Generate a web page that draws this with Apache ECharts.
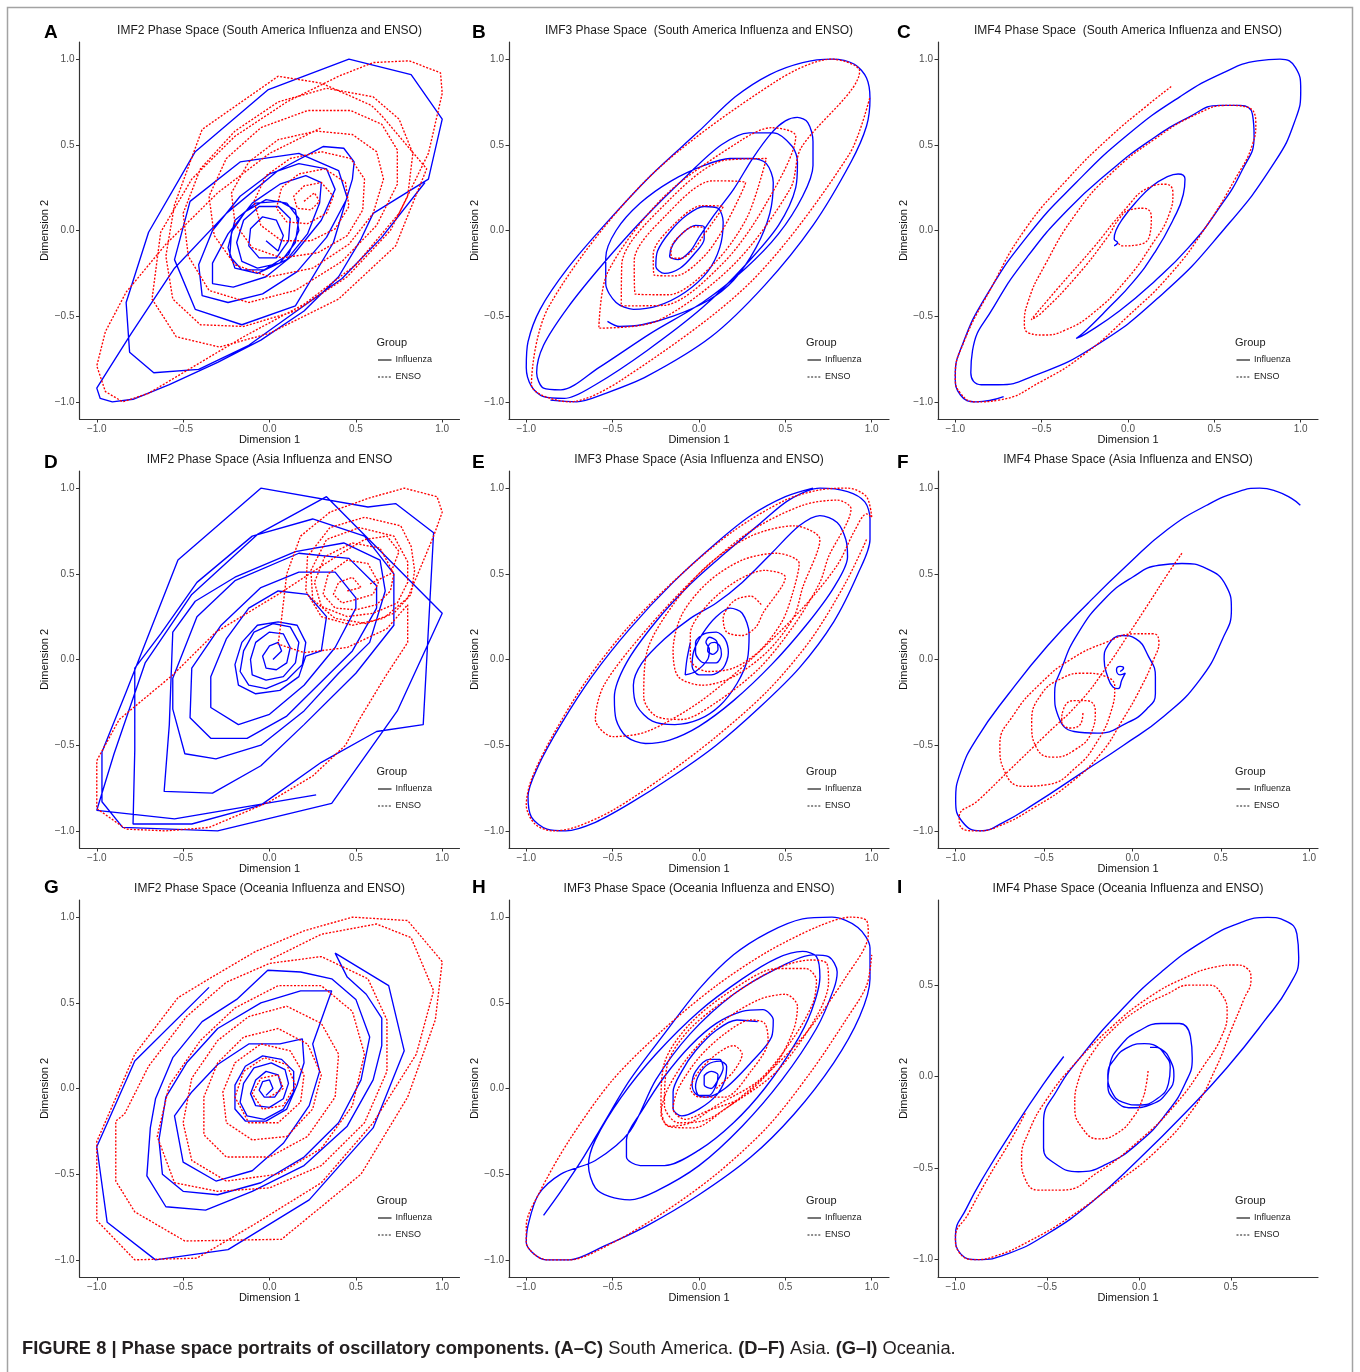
<!DOCTYPE html>
<html>
<head>
<meta charset="utf-8">
<script src="https://cdn.jsdelivr.net/npm/echarts/dist/echarts.min.js"></script>
<style>
  html, body { margin: 0; padding: 0; background: #fff; }
  #chart { width: 1360px; height: 1372px; }
</style>
</head>
<body>
<div id="chart"></div>
<script>
// ---- tick labels, titles, group names ----
const fullTicks = [-1, -0.5, 0, 0.5, 1];
const shortTicks = [-1, -0.5, 0, 0.5];
const panelLetters = ['A', 'B', 'C', 'D', 'E', 'F', 'G', 'H', 'I'];
const panelTitles = [
  'IMF2 Phase Space (South America Influenza and ENSO)',
  'IMF3 Phase Space  (South America Influenza and ENSO)',
  'IMF4 Phase Space  (South America Influenza and ENSO)',
  'IMF2 Phase Space (Asia Influenza and ENSO',
  'IMF3 Phase Space (Asia Influenza and ENSO)',
  'IMF4 Phase Space (Asia Influenza and ENSO)',
  'IMF2 Phase Space (Oceania Influenza and ENSO)',
  'IMF3 Phase Space (Oceania Influenza and ENSO)',
  'IMF4 Phase Space (Oceania Influenza and ENSO)'
];
const groupNames = ['Influenza', 'ENSO'];
const xAxisName = 'Dimension 1';
const yAxisName = 'Dimension 2';

// ---- South America ----
const saFlu2 = [
[-0.02,-0.06],[0.05,-0.12],[0.08,-0.03],[0.04,0.06],[-0.04,0.08],[-0.11,0.01],[-0.12,-0.09],[-0.06,-0.16],
[0.04,-0.16],[0.11,-0.06],[0.12,0.07],[0.05,0.14],[-0.06,0.14],[-0.15,0.06],[-0.19,-0.07],[-0.16,-0.18],[-0.07,-0.22],
[0.06,-0.19],[0.15,-0.07],[0.17,0.07],[0.1,0.16],[-0.02,0.18],[-0.14,0.11],[-0.22,-0.01],[-0.23,-0.15],[-0.16,-0.23],
[-0.03,-0.23],[0.11,-0.14],[0.17,0.0],[0.15,0.12],[0.06,0.17],[-0.08,0.16],[-0.2,0.06],[-0.24,-0.1],[-0.2,-0.22],
[-0.07,-0.25],[0.1,-0.17],[0.22,-0.02],[0.29,0.16],[0.3,0.28],[0.21,0.32],[0.06,0.27],[-0.1,0.16],[-0.24,-0.02],[-0.33,-0.19],[-0.33,-0.31],[-0.21,-0.33],[-0.02,-0.27],[0.14,-0.14],
[0.3,0.06],[0.38,0.24],[0.33,0.36],[0.17,0.39],[0.0,0.33],[-0.17,0.2],[-0.33,0.0],[-0.41,-0.2],[-0.39,-0.38],[-0.24,-0.42],[-0.04,-0.37],[0.16,-0.24],[0.33,-0.04],
[0.45,0.19],[0.4,0.35],[0.17,0.45],[-0.17,0.4],[-0.46,0.17],[-0.55,-0.17],[-0.43,-0.46],[-0.16,-0.55],[0.15,-0.44],[0.37,-0.07],[0.48,0.3],[0.49,0.4],[0.43,0.48],[0.31,0.49],
[0.05,0.35],[-0.25,0.1],[-0.55,-0.22],[-0.8,-0.6],[-0.95,-0.84],[-1.0,-0.92],[-0.98,-0.98],[-0.91,-1.0],[-0.79,-0.985],[-0.58,-0.9],[-0.3,-0.77],[-0.05,-0.64],[0.2,-0.47],[0.4,-0.27],[0.53,-0.05],[0.6,0.1],
[0.92,0.3],[1.0,0.65],[0.82,0.91],[0.46,1.0],[-0.01,0.82],[-0.43,0.46],[-0.7,-0.01],[-0.83,-0.42],[-0.81,-0.71],[-0.67,-0.83],[-0.41,-0.81],[-0.12,-0.67],[0.42,-0.28],[0.65,-0.04],[0.9,0.28]
];
const saEnso2 = [
[0.2,0.17],[0.26,0.22],[0.29,0.17],[0.24,0.12],[0.16,0.13],[0.14,0.2],[0.2,0.26],[0.3,0.28],[0.37,0.2],[0.33,0.1],[0.22,0.04],[0.1,0.05],[0.04,0.13],[0.07,0.25],[0.17,0.33],[0.32,0.36],
[0.44,0.28],[0.46,0.14],[0.38,0.01],[0.24,-0.06],[0.07,-0.06],[-0.05,0.03],[-0.09,0.17],[-0.02,0.32],[0.12,0.42],[0.3,0.46],[0.47,0.42],[0.55,0.3],[0.54,0.12],[0.45,-0.03],[0.28,-0.13],[0.07,-0.16],[-0.1,-0.1],[-0.2,0.04],[-0.22,0.22],[-0.12,0.4],[0.05,0.53],[0.27,0.58],[0.48,0.56],[0.62,0.46],[0.66,0.3],[0.6,0.1],[0.46,-0.08],[0.25,-0.22],[0.0,-0.27],[-0.2,-0.2],[-0.32,-0.03],[-0.35,0.2],[-0.25,0.42],[-0.05,0.6],[0.22,0.7],[0.47,0.7],[0.65,0.62],[0.74,0.47],[0.74,0.27],[0.62,0.03],[0.42,-0.18],[0.15,-0.35],[-0.12,-0.42],[-0.35,-0.35],[-0.47,-0.15],[-0.5,0.1],[-0.4,0.36],[-0.2,0.58],[0.05,0.75],[0.33,0.83],[0.6,0.78],[0.75,0.65],[0.83,0.45],[0.8,0.2],[0.7,0.0],[0.45,-0.27],[0.15,-0.47],[-0.15,-0.56],[-0.4,-0.55],[-0.56,-0.4],[-0.6,-0.15],[-0.55,0.15],[-0.39,0.59],[0.05,0.9],[0.3,0.86],[0.59,0.73],[0.65,0.67],[0.91,0.36],[0.73,-0.09],[0.4,-0.4],[0.0,-0.6],[-0.29,-0.68],[-0.54,-0.62],[-0.68,-0.4],[-0.63,-0.01],[-0.45,0.3],[-0.2,0.55],[0.1,0.75],[0.4,0.9],[0.6,0.98],[0.81,0.99],[0.99,0.92],[1.0,0.8],[0.92,0.45],[0.75,0.1],[0.5,-0.2],[0.2,-0.43],[-0.15,-0.62],[-0.45,-0.8],[-0.7,-0.95],[-0.85,-1.0],[-0.95,-0.94],[-1.0,-0.79],[-0.95,-0.59],[-0.83,-0.36],[-0.6,-0.08],[-0.3,0.22],[0.0,0.45],[0.3,0.6]
];
const saFlu3 = [
[-0.53,-0.53],[-0.46,-0.56],[-0.33,-0.55],[-0.15,-0.5],[0.05,-0.41],[0.2,-0.29],[0.33,-0.1],[0.41,0.1],[0.43,0.28],[0.39,0.39],[0.31,0.42],[0.18,0.42],[0.03,0.38],[-0.16,0.29],[-0.34,0.16],[-0.48,0.0],[-0.54,-0.16],[-0.54,-0.31],[-0.48,-0.42],[-0.38,-0.46],[-0.24,-0.44],[-0.08,-0.36],[0.05,-0.24],[0.12,-0.1],[0.14,0.05],[0.11,0.13],[0.03,0.14],[-0.07,0.09],[-0.17,-0.01],[-0.24,-0.12],[-0.25,-0.21],[-0.2,-0.25],[-0.11,-0.22],[-0.03,-0.14],[0.03,-0.05],[0.03,0.02],[-0.02,0.03],[-0.09,-0.01],[-0.15,-0.08],[-0.17,-0.15],[-0.12,-0.17],[-0.05,-0.12],[0.0,-0.04],
[0.08,0.08],[0.2,0.24],[0.31,0.42],[0.42,0.57],[0.5,0.64],[0.57,0.66],[0.63,0.63],[0.66,0.52],[0.66,0.38],[0.6,0.2],[0.46,-0.02],[0.27,-0.22],[0.02,-0.42],[-0.28,-0.6],[-0.58,-0.8],[-0.8,-0.93],[-0.9,-0.92],[-0.94,-0.83],[-0.9,-0.67],[-0.76,-0.45],[-0.56,-0.2],[-0.32,0.07],[-0.07,0.32],[0.13,0.5],[0.29,0.57],[0.43,0.57],[0.54,0.49],[0.57,0.4],[0.56,0.25],[0.46,0.03],[0.27,-0.2],[0.02,-0.45],[-0.3,-0.7],[-0.6,-0.9],[-0.78,-0.98],
[-0.9,-0.97],[-0.97,-0.91],[-1.0,-0.8],[-0.99,-0.65],[-0.92,-0.46],[-0.76,-0.22],[-0.54,0.04],[-0.28,0.32],[0.0,0.58],[0.21,0.78],[0.41,0.91],[0.6,0.98],[0.77,1.0],[0.9,0.97],[0.97,0.89],[0.99,0.77],[0.97,0.61],[0.88,0.4],[0.66,0.03],[0.38,-0.32],[0.07,-0.62],[-0.3,-0.85],[-0.54,-0.95],[-0.71,-1.0],[-0.86,-0.99]
];
const saEnso3 = [
[0.02,0.02],[-0.035,0.022],[-0.11,-0.03],[-0.162,-0.105],[-0.16,-0.16],[-0.105,-0.162],[-0.03,-0.11],[0.022,-0.035],
[0.14,0.14],[0.018,0.145],[-0.15,0.03],[-0.265,-0.138],[-0.26,-0.26],[-0.138,-0.265],[0.03,-0.15],[0.145,0.018],
[0.27,0.28],[0.08,0.29],[-0.19,0.09],[-0.375,-0.177],[-0.37,-0.37],[-0.177,-0.375],[0.09,-0.19],[0.28,0.08],
[0.39,0.42],[0.15,0.41],[-0.2,0.15],[-0.447,-0.197],[-0.45,-0.44],[-0.207,-0.437],[0.14,-0.19],[0.39,0.16],
[0.56,0.55],[0.42,0.6],[0.25,0.53],[-0.2,0.2],[-0.53,-0.247],[-0.58,-0.57],[-0.247,-0.53],[0.2,-0.2],[0.53,0.247],[0.59,0.48],
[0.93,0.93],[0.77,1.0],[0.445,0.87],[-0.3,0.3],[-0.87,-0.445],[-0.97,-0.9],[-0.75,-1.0],[-0.445,-0.87],[0.3,-0.3],[0.87,0.445],[0.99,0.78]
];
const saFlu4 = [
[-0.08,-0.09],[-0.06,-0.07],[-0.08,-0.05],[-0.07,0.0],[-0.03,0.07],[0.05,0.17],[0.14,0.26],[0.22,0.31],[0.29,0.33],[0.33,0.3],[0.32,0.21],[0.26,0.06],[0.16,-0.12],[0.03,-0.3],[-0.12,-0.46],[-0.24,-0.58],[-0.3,-0.63],
[-0.24,-0.6],[-0.05,-0.47],[0.15,-0.3],[0.35,-0.1],[0.52,0.12],[0.66,0.35],[0.73,0.55],[0.72,0.68],[0.65,0.73],[0.53,0.73],[0.35,0.66],[0.12,0.52],[-0.1,0.35],[-0.35,0.12],[-0.58,-0.15],[-0.78,-0.45],[-0.9,-0.7],[-0.91,-0.83],[-0.85,-0.9],[-0.75,-0.9],[-0.55,-0.85],[-0.2,-0.68],[0.2,-0.37],[0.55,0.0],[0.85,0.4],[0.97,0.65],[1.0,0.82],[0.97,0.95],[0.88,1.0],[0.75,0.99],[0.55,0.92],[0.3,0.78],[0.0,0.56],[-0.3,0.28],[-0.58,-0.03],[-0.82,-0.38],[-0.96,-0.67],[-1.0,-0.85],[-0.97,-0.96],[-0.88,-1.0],[-0.72,-0.97]
];
const saEnso4 = [
[0.25,0.84],[0.1,0.72],[-0.1,0.55],[-0.35,0.3],[-0.6,0.0],[-0.8,-0.35],[-0.95,-0.65],[-1.0,-0.85],[-0.97,-0.95],[-0.88,-1.0],[-0.75,-0.99],[-0.5,-0.88],[-0.25,-0.72],[0.0,-0.5],[0.25,-0.25],[0.45,0.02],[0.62,0.3],[0.72,0.5],[0.74,0.63],[0.69,0.72],[0.58,0.73],[0.4,0.68],[0.15,0.53],[-0.1,0.33],[-0.3,0.1],[-0.48,-0.2],[-0.58,-0.42],[-0.6,-0.55],[-0.57,-0.6],[-0.49,-0.61],[-0.36,-0.58],[-0.2,-0.48],[-0.02,-0.3],[0.14,-0.08],[0.24,0.1],[0.26,0.22],[0.22,0.27],[0.12,0.25],[-0.02,0.12],[-0.2,-0.1],[-0.4,-0.33],[-0.56,-0.52],[-0.5,-0.48],[-0.3,-0.27],[-0.12,-0.04],[-0.05,0.07],[0.01,0.12],[0.09,0.13],[0.135,0.08],[0.125,-0.03],[0.05,-0.085],[-0.03,-0.09],[-0.06,-0.07]
];

// ---- Asia ----
const asFlu2 = [
[0.02,0.0],[0.07,0.05],[0.05,0.1],[0.0,0.08],[-0.04,0.02],[-0.02,-0.05],[0.04,-0.06],[0.1,-0.02],[0.12,0.07],[0.08,0.15],[0.0,0.16],[-0.08,0.1],[-0.11,0.0],[-0.1,-0.09],[-0.02,-0.12],[0.08,-0.1],[0.15,-0.02],[0.17,0.1],[0.12,0.19],[0.02,0.21],[-0.09,0.16],[-0.15,0.05],[-0.17,-0.07],[-0.12,-0.15],[-0.02,-0.17],[0.1,-0.12],[0.19,-0.03],[0.21,0.1],[0.16,0.2],[0.05,0.22],[-0.07,0.2],[-0.16,0.1],[-0.2,-0.03],[-0.18,-0.15],[-0.08,-0.2],[0.06,-0.18],[0.17,-0.1],[0.21,0.02],
[0.3,0.05],[0.33,0.25],[0.22,0.38],[0.05,0.4],[-0.12,0.3],[-0.25,0.12],[-0.34,-0.1],[-0.34,-0.28],[-0.18,-0.38],[0.0,-0.32],[0.2,-0.15],
[0.38,0.07],[0.5,0.3],[0.5,0.36],[0.38,0.51],[0.17,0.51],[-0.05,0.42],[-0.28,0.2],[-0.45,-0.05],[-0.46,-0.34],[-0.34,-0.46],[-0.13,-0.46],[0.1,-0.33],[0.28,-0.15],
[0.48,0.05],[0.62,0.3],[0.62,0.43],[0.46,0.59],[0.17,0.62],[-0.2,0.46],[-0.42,0.25],[-0.56,-0.11],[-0.56,-0.29],[-0.49,-0.55],[-0.31,-0.58],[-0.05,-0.5],[0.2,-0.3],[0.4,-0.08],
[0.58,0.1],[0.67,0.4],[0.64,0.58],[0.43,0.68],[0.15,0.63],[-0.2,0.48],[-0.43,0.34],[-0.56,0.16],[-0.58,-0.38],[-0.61,-0.77],[-0.33,-0.78],[-0.05,-0.62],[0.2,-0.38],[0.5,-0.08],
[0.72,0.2],[0.72,0.5],[0.55,0.72],[0.25,0.82],[-0.1,0.72],[-0.42,0.45],[-0.63,0.15],[-0.78,-0.05],[-0.78,-0.53],[-0.79,-0.96],[-0.45,-0.96],[-0.05,-0.85],[0.3,-0.6],[0.62,-0.42],
[0.89,-0.38],[0.95,0.74],[0.73,0.91],[0.57,0.89],[-0.05,1.0],[-0.53,0.58],[-0.83,-0.19],[-0.97,-0.54],[-0.97,-0.83],[-0.85,-0.98],[-0.3,-1.0],[0.36,-0.84],[0.74,-0.3],[1.0,0.27],[0.33,0.95],[-0.07,0.73],[-0.45,0.38],[-0.72,-0.02],[-0.9,-0.55],[-1.0,-0.88],[-0.55,-0.93],[0.27,-0.79]
];
const asEnso2 = [
[0.45,0.4],[0.53,0.42],[0.48,0.48],[0.4,0.45],[0.37,0.38],[0.42,0.33],[0.5,0.35],[0.6,0.38],[0.63,0.45],[0.57,0.56],[0.45,0.58],[0.34,0.5],[0.31,0.38],[0.38,0.3],[0.5,0.29],[0.62,0.32],[0.7,0.4],[0.72,0.5],[0.64,0.65],[0.48,0.68],[0.32,0.6],[0.26,0.45],[0.3,0.31],[0.45,0.25],[0.6,0.27],[0.74,0.33],[0.8,0.45],[0.8,0.57],[0.72,0.72],[0.52,0.77],[0.33,0.7],[0.24,0.52],[0.25,0.35],[0.38,0.24],[0.56,0.21],[0.72,0.27],[0.82,0.38],[0.84,0.52],[0.82,0.66],[0.76,0.78],[0.55,0.83],[0.35,0.77],[0.22,0.6],[0.21,0.4],[0.3,0.25],[0.48,0.2],[0.66,0.24],[0.8,0.36],[0.88,0.55],[0.95,0.72],[1.0,0.86],[0.97,0.95],[0.78,1.0],[0.57,0.94],[0.35,0.86],[0.18,0.72],[0.1,0.5],[0.07,0.24],[0.05,0.09],[0.2,0.04],[0.45,0.07],[0.68,0.18],[0.8,0.32],[0.8,0.1],[0.67,-0.1],[0.52,-0.35],[0.44,-0.5],[0.25,-0.68],[0.0,-0.83],[-0.35,-0.98],[-0.6,-1.0],[-0.83,-0.99],[-1.0,-0.87],[-1.0,-0.59],[-0.87,-0.35],[-0.56,-0.09],[-0.31,0.16],[0.05,0.38],[0.4,0.61],[0.55,0.7],[0.68,0.72],[0.75,0.63],[0.7,0.5],[0.58,0.44]
];
const asFlu3 = [
[-0.05,0.1],[-0.07,0.0],[-0.08,-0.09],[-0.02,-0.07],[0.05,0.0],[0.06,0.06],[0.04,0.1],[0.06,0.13],[0.1,0.11],[0.11,0.06],[0.08,0.03],[0.05,0.05],[0.06,0.09],[0.09,0.1],[0.12,0.08],[0.13,0.03],[0.1,-0.02],[0.03,-0.02],[-0.02,0.04],[-0.02,0.1],[0.03,0.15],[0.1,0.16],[0.15,0.12],[0.17,0.04],[0.14,-0.05],[0.07,-0.09],[0.0,-0.09],[-0.04,-0.04],[-0.03,0.05],
[0.02,0.15],[0.1,0.25],[0.18,0.3],[0.25,0.27],[0.29,0.15],[0.28,0.0],[0.22,-0.14],[0.12,-0.27],[0.0,-0.35],[-0.14,-0.38],[-0.27,-0.36],[-0.36,-0.27],[-0.38,-0.15],[-0.33,-0.02],[-0.2,0.12],[-0.05,0.24],[0.1,0.33],[0.25,0.45],[0.42,0.62],[0.58,0.78],[0.7,0.84],[0.8,0.8],[0.85,0.7],[0.86,0.6],[0.78,0.42],[0.62,0.2],[0.42,-0.03],[0.2,-0.24],[0.0,-0.39],[-0.17,-0.47],[-0.31,-0.49],[-0.42,-0.45],[-0.48,-0.35],[-0.49,-0.22],[-0.42,-0.02],[-0.25,0.22],[-0.05,0.44],[0.15,0.62],[0.35,0.79],[0.52,0.93],[0.7,1.0],[0.86,0.98],[0.96,0.92],[0.99,0.82],[0.99,0.7],[0.92,0.5],[0.78,0.22],[0.58,-0.05],[0.35,-0.28],[0.1,-0.5],[-0.15,-0.68],[-0.4,-0.84],[-0.6,-0.95],[-0.77,-1.0],[-0.88,-0.99],[-0.97,-0.92],[-0.99,-0.8],[-0.93,-0.62],[-0.8,-0.38],[-0.62,-0.1],[-0.4,0.18],[-0.15,0.45],[0.1,0.68],[0.3,0.84],[0.5,0.95],[0.66,1.0]
];
const asEnso3 = [
[0.36,0.32],[0.3,0.37],[0.2,0.34],[0.14,0.24],[0.16,0.16],[0.25,0.14],[0.33,0.19],[0.37,0.27],
[0.5,0.48],[0.38,0.52],[0.22,0.46],[0.05,0.32],[-0.05,0.15],[-0.05,0.0],[0.05,-0.07],[0.2,-0.05],[0.35,0.05],[0.48,0.22],[0.54,0.38],
[0.58,0.56],[0.45,0.62],[0.25,0.58],[0.05,0.45],[-0.1,0.26],[-0.15,0.05],[-0.12,-0.1],[0.02,-0.15],[0.2,-0.1],[0.4,0.05],[0.55,0.25],[0.6,0.42],
[0.7,0.7],[0.55,0.78],[0.3,0.72],[0.05,0.55],[-0.15,0.32],[-0.3,0.05],[-0.32,-0.22],[-0.25,-0.33],[-0.1,-0.35],[0.1,-0.25],[0.35,-0.05],[0.55,0.2],[0.7,0.45],[0.75,0.6],
[0.88,0.88],[0.8,0.93],[0.6,0.9],[0.3,0.75],[0.0,0.5],[-0.3,0.18],[-0.55,-0.15],[-0.6,-0.35],[-0.5,-0.45],[-0.3,-0.42],[0.0,-0.25],[0.3,0.0],[0.6,0.3],[0.8,0.55],[0.9,0.75],[0.97,0.85],
[1.0,0.83],[0.97,0.95],[0.86,1.0],[0.7,0.99],[0.5,0.93],[0.2,0.75],[-0.1,0.5],[-0.4,0.2],[-0.65,-0.12],[-0.85,-0.45],[-0.97,-0.7],[-1.0,-0.85],[-0.95,-0.96],[-0.85,-1.0],[-0.72,-0.98],[-0.5,-0.88],[-0.2,-0.68],[0.1,-0.45],[0.4,-0.18],[0.65,0.12],[0.85,0.45],[0.97,0.7]
];
const asFlu4 = [
[-0.07,-0.07],[-0.05,-0.05],[-0.07,-0.04],[-0.09,-0.06],[-0.07,-0.09],[-0.04,-0.08],[-0.06,-0.12],[-0.08,-0.17],[-0.11,-0.16],[-0.14,-0.1],[-0.16,0.0],[-0.14,0.08],[-0.06,0.14],[0.02,0.12],[0.09,0.02],[0.13,-0.1],[0.13,-0.2],[0.08,-0.29],[-0.03,-0.37],[-0.2,-0.43],[-0.33,-0.42],[-0.42,-0.33],[-0.44,-0.2],[-0.4,-0.05],[-0.31,0.15],[-0.16,0.35],[0.0,0.48],[0.15,0.55],[0.28,0.56],[0.42,0.53],[0.53,0.43],[0.56,0.29],[0.51,0.12],[0.38,-0.12],[0.18,-0.33],[-0.05,-0.5],[-0.3,-0.67],[-0.55,-0.84],[-0.73,-0.95],[-0.86,-1.0],[-0.96,-0.95],[-1.0,-0.82],[-0.97,-0.65],[-0.88,-0.46],[-0.7,-0.2],[-0.48,0.08],[-0.25,0.33],[-0.02,0.56],[0.2,0.76],[0.42,0.9],[0.6,0.98],[0.72,1.0],[0.82,0.98],[0.9,0.94],[0.95,0.9]
];
const asEnso4 = [
[0.28,0.62],[0.2,0.5],[0.1,0.34],[-0.02,0.15],[-0.15,-0.05],[-0.3,-0.25],[-0.5,-0.45],[-0.7,-0.65],[-0.87,-0.82],[-0.98,-0.92],[-0.97,-0.98],[-0.88,-1.0],[-0.75,-0.97],[-0.55,-0.86],[-0.35,-0.72],[-0.18,-0.55],[-0.06,-0.36],[0.05,-0.16],[0.12,0.0],[0.15,0.1],[0.12,0.15],[0.02,0.15],[-0.15,0.1],[-0.35,0.0],[-0.52,-0.14],[-0.67,-0.32],[-0.75,-0.5],[-0.72,-0.66],[-0.62,-0.74],[-0.48,-0.73],[-0.32,-0.63],[-0.2,-0.48],[-0.12,-0.3],[-0.1,-0.16],[-0.15,-0.1],[-0.27,-0.08],[-0.4,-0.11],[-0.52,-0.21],[-0.57,-0.37],[-0.54,-0.52],[-0.45,-0.57],[-0.33,-0.53],[-0.23,-0.42],[-0.21,-0.3],[-0.26,-0.24],[-0.33,-0.24],[-0.39,-0.29],[-0.4,-0.36],[-0.35,-0.4],[-0.29,-0.37],[-0.28,-0.31]
];

// ---- Oceania ----
const ocFlu2 = [
[-0.02,-0.04],[0.02,0.0],[0.0,0.05],[-0.04,0.04],[-0.06,-0.01],[-0.03,-0.05],[0.03,-0.05],[0.07,0.01],[0.05,0.08],[-0.02,0.1],[-0.08,0.05],[-0.11,-0.03],[-0.08,-0.1],[0.0,-0.11],[0.08,-0.06],[0.11,0.03],[0.09,0.11],[0.01,0.15],[-0.09,0.12],[-0.15,0.03],[-0.17,-0.08],[-0.13,-0.16],[-0.03,-0.18],[0.08,-0.12],[0.14,-0.02],[0.14,0.1],[0.07,0.17],[-0.04,0.19],[-0.14,0.13],[-0.2,0.02],[-0.2,-0.12],[-0.14,-0.19],[-0.02,-0.19],[0.1,-0.12],[0.16,0.02],
[0.2,0.15],[0.19,0.29],[0.06,0.26],[-0.12,0.26],[-0.3,0.14],[-0.45,-0.02],[-0.55,-0.16],[-0.5,-0.43],[-0.31,-0.54],[-0.1,-0.48],[0.08,-0.32],[0.23,-0.1],[0.29,0.1],[0.25,0.26],
[0.36,0.57],[0.18,0.57],[-0.05,0.5],[-0.3,0.35],[-0.48,0.15],[-0.6,-0.05],[-0.64,-0.3],[-0.62,-0.5],[-0.5,-0.6],[-0.3,-0.62],[-0.05,-0.55],[0.2,-0.4],[0.4,-0.2],[0.53,0.05],[0.58,0.3],[0.5,0.52],
[0.36,0.64],[0.18,0.68],[-0.01,0.69],[-0.19,0.52],[-0.39,0.39],[-0.56,0.18],[-0.66,-0.06],[-0.69,-0.23],[-0.71,-0.51],[-0.6,-0.69],[-0.37,-0.71],[-0.1,-0.6],[0.2,-0.45],[0.45,-0.22],[0.6,0.05],[0.65,0.25],[0.65,0.41],[0.56,0.55],[0.45,0.65],
[0.38,0.79],[0.69,0.6],[0.78,0.22],[0.6,-0.23],[0.23,-0.65],[-0.24,-0.94],[-0.66,-1.0],[-0.94,-0.78],[-1.0,-0.34],[-0.78,0.16],[-0.35,0.59]
];
const ocEnso2 = [
[0.0,-0.05],[0.08,0.0],[0.05,0.08],[-0.05,0.06],[-0.1,-0.03],[-0.04,-0.12],[0.08,-0.1],[0.15,0.02],[0.1,0.14],[-0.03,0.18],[-0.15,0.1],[-0.2,-0.05],[-0.12,-0.2],[0.05,-0.2],[0.18,-0.08],[0.2,0.08],[0.12,0.22],[-0.05,0.26],[-0.2,0.15],[-0.27,-0.02],[-0.25,-0.2],[-0.1,-0.3],[0.1,-0.28],[0.25,-0.12],[0.3,0.08],[0.22,0.26],[0.05,0.35],[-0.15,0.3],[-0.3,0.15],[-0.38,-0.05],[-0.38,-0.27],[-0.25,-0.4],[0.0,-0.4],[0.22,-0.28],[0.38,-0.05],[0.4,0.2],[0.3,0.38],[0.1,0.48],[-0.12,0.42],[-0.3,0.28],[-0.45,0.06],[-0.5,-0.2],[-0.45,-0.42],[-0.25,-0.54],[0.05,-0.5],[0.3,-0.35],[0.48,-0.1],[0.55,0.2],[0.48,0.45],[0.3,0.6],[0.05,0.6],[-0.2,0.47],[-0.4,0.28],[-0.58,0.02],[-0.65,-0.28],[-0.55,-0.55],[-0.3,-0.6],[0.0,-0.58],[0.3,-0.45],[0.55,-0.2],[0.68,0.1],[0.68,0.4],[0.57,0.64],[0.3,0.77],[0.0,0.73],[-0.25,0.62],[-0.48,0.42],[-0.7,0.13],[-0.84,-0.15],[-0.89,-0.19],[-0.89,-0.54],[-0.78,-0.72],[-0.49,-0.89],[0.07,-0.88],[0.53,-0.5],[0.8,-0.05],[0.96,0.4],[1.0,0.74],[0.8,0.98],[0.48,1.0],[0.2,0.92],[-0.08,0.8],[-0.35,0.64],[-0.53,0.53],[-0.78,0.2],[-1.0,-0.31],[-1.0,-0.77],[-0.78,-1.0],[-0.42,-0.99],[-0.1,-0.8],[0.3,-0.55],[0.6,-0.2],[0.85,0.2],[0.95,0.57],[0.82,0.88],[0.62,0.96],[0.3,0.9],[0.0,0.75]
];
const ocFlu3 = [
[0.34,0.39],[0.22,0.4],[0.1,0.34],[-0.02,0.22],[-0.1,0.1],[-0.15,-0.02],[-0.15,-0.12],[-0.1,-0.16],[0.0,-0.12],[0.1,-0.04],[0.15,0.05],[0.16,0.13],[0.12,0.16],[0.05,0.14],[0.0,0.08],[-0.02,0.01],[0.0,-0.04],[0.06,-0.04],[0.1,0.02],[0.11,0.08],[0.07,0.1],[0.03,0.07],[0.03,0.02],[0.07,0.0],[0.11,0.05],[0.14,0.12],[0.12,0.17],[0.06,0.17],[-0.02,0.1],[-0.04,0.02],[-0.02,-0.03],[0.04,-0.05],
[0.15,0.0],[0.3,0.15],[0.42,0.3],[0.43,0.4],[0.37,0.46],[0.25,0.45],[0.1,0.38],[-0.05,0.25],[-0.2,0.07],[-0.33,-0.13],[-0.42,-0.3],[-0.42,-0.4],[-0.34,-0.45],[-0.2,-0.45],[0.0,-0.36],[0.2,-0.2],[0.38,0.0],[0.55,0.25],[0.65,0.45],[0.7,0.65],[0.68,0.77],[0.6,0.8],[0.45,0.76],[0.25,0.64],[0.0,0.45],[-0.25,0.2],[-0.45,-0.05],[-0.6,-0.3],[-0.64,-0.45],[-0.6,-0.58],[-0.52,-0.63],[-0.4,-0.65],[-0.25,-0.6],[0.0,-0.45],[0.25,-0.22],[0.48,0.05],[0.68,0.35],[0.78,0.58],[0.8,0.68],[0.75,0.77],[0.66,0.78],[0.45,0.7],[0.2,0.55],[-0.05,0.32],[-0.25,0.05],[-0.4,-0.25],[-0.6,-0.42],[-0.8,-0.5],[-0.93,-0.62],[-0.99,-0.8],[-1.0,-0.9],[-0.95,-0.97],[-0.88,-1.0],[-0.75,-1.0],[-0.55,-0.92],[-0.3,-0.8],[0.0,-0.62],[0.3,-0.4],[0.55,-0.15],[0.78,0.15],[0.93,0.42],[0.99,0.64],[0.99,0.82],[0.92,0.94],[0.77,1.0],[0.6,0.99],[0.4,0.91],[0.2,0.78],[0.0,0.58],[-0.2,0.32],[-0.4,0.05],[-0.55,-0.2],[-0.68,-0.42],[-0.8,-0.6],[-0.9,-0.74]
];
const ocEnso3 = [
[0.1,0.0],[0.2,0.1],[0.25,0.2],[0.2,0.25],[0.1,0.2],[0.0,0.1],[-0.05,0.0],[0.0,-0.05],
[0.15,-0.05],[0.3,0.1],[0.4,0.28],[0.38,0.38],[0.3,0.4],[0.15,0.32],[0.0,0.18],[-0.12,0.0],[-0.15,-0.12],[-0.08,-0.18],[0.05,-0.13],
[0.25,-0.05],[0.45,0.15],[0.55,0.35],[0.57,0.48],[0.5,0.55],[0.35,0.52],[0.15,0.4],[-0.05,0.2],[-0.18,0.0],[-0.22,-0.15],[-0.17,-0.22],[-0.05,-0.2],[0.1,-0.1],
[0.35,0.05],[0.55,0.3],[0.66,0.5],[0.68,0.63],[0.62,0.7],[0.45,0.7],[0.2,0.58],[-0.05,0.38],[-0.2,0.15],[-0.22,-0.1],[-0.18,-0.22],[-0.03,-0.23],[0.15,-0.12],
[0.45,0.1],[0.68,0.42],[0.75,0.62],[0.74,0.73],[0.65,0.75],[0.45,0.7],[0.2,0.55],[-0.05,0.35],[-0.18,0.15],[-0.2,-0.1],[-0.12,-0.2],[0.05,-0.18],[0.3,0.0],
[0.6,0.3],[0.85,0.65],[0.98,0.9],[0.97,0.98],[0.88,1.0],[0.7,0.95],[0.4,0.8],[0.1,0.6],[-0.2,0.35],[-0.5,0.05],[-0.75,-0.3],[-0.92,-0.6],[-1.0,-0.8],[-1.0,-0.9],[-0.95,-0.97],[-0.88,-1.0],[-0.75,-1.0],[-0.5,-0.9],[-0.2,-0.72],[0.1,-0.5],[0.4,-0.22],[0.65,0.1],[0.85,0.4],[0.97,0.6],[1.0,0.78]
];
const ocFlu4 = [
[-0.41,0.11],[-0.52,-0.04],[-0.68,-0.28],[-0.83,-0.52],[-0.94,-0.72],[-1.0,-0.87],[-0.97,-0.97],[-0.88,-1.0],[-0.72,-0.97],[-0.5,-0.86],[-0.25,-0.68],[0.0,-0.45],[0.25,-0.2],[0.48,0.05],[0.68,0.3],[0.82,0.5],[0.87,0.65],[0.86,0.78],[0.8,0.85],[0.7,0.87],[0.55,0.84],[0.35,0.74],[0.12,0.57],[-0.1,0.36],[-0.3,0.13],[-0.45,-0.08],[-0.52,-0.25],[-0.52,-0.39],[-0.45,-0.48],[-0.33,-0.52],[-0.18,-0.48],[0.0,-0.36],[0.15,-0.2],[0.25,-0.04],[0.29,0.1],[0.28,0.22],[0.22,0.29],[0.12,0.29],[0.0,0.25],[-0.1,0.17],[-0.16,0.06],[-0.17,-0.04],[-0.13,-0.13],[-0.04,-0.17],[0.07,-0.15],[0.15,-0.09],[0.19,0.0],[0.17,0.09],[0.12,0.15],[0.03,0.18],[-0.06,0.16],[-0.13,0.1],[-0.17,0.01],[-0.15,-0.08],[-0.09,-0.14],[0.0,-0.155],[0.1,-0.12],[0.16,-0.04],[0.17,0.05],[0.14,0.12],[0.09,0.16],[0.06,0.16]
];
const ocEnso4 = [
[-0.62,-0.2],[-0.7,-0.35],[-0.82,-0.55],[-0.93,-0.75],[-1.0,-0.88],[-0.98,-0.96],[-0.9,-1.0],[-0.78,-0.98],[-0.6,-0.9],[-0.38,-0.77],[-0.15,-0.6],[0.1,-0.4],[0.3,-0.17],[0.42,0.05],[0.5,0.25],[0.57,0.42],[0.61,0.53],[0.59,0.59],[0.52,0.61],[0.42,0.6],[0.25,0.54],[0.05,0.43],[-0.15,0.27],[-0.35,0.07],[-0.5,-0.12],[-0.6,-0.3],[-0.64,-0.45],[-0.62,-0.56],[-0.55,-0.62],[-0.42,-0.62],[-0.22,-0.52],[0.0,-0.35],[0.2,-0.15],[0.36,0.07],[0.45,0.22],[0.48,0.35],[0.45,0.45],[0.38,0.5],[0.28,0.5],[0.15,0.45],[0.0,0.37],[-0.15,0.25],[-0.26,0.12],[-0.33,-0.02],[-0.35,-0.16],[-0.31,-0.28],[-0.22,-0.34],[-0.12,-0.31],[-0.03,-0.22],[0.02,-0.12],[0.04,-0.04],[0.05,0.04]
];

// ---- page layout ----
const FONT = '"Liberation Sans", Arial, Helvetica, sans-serif';
const COL_X = [79.5, 509, 938];
const ROW_Y = [42, 471, 900];
const PLOT_W = 380, PLOT_H = 377;
const LETTER_X = [44, 472, 897];
const LETTER_Y = [33, 463, 888];
const TITLE_Y = [31, 460, 889];
const FLU_COLOR = '#0000ff';
const ENSO_COLOR = '#ff0000';
const DOT_DASH = [2, 1.6];

const panelSpecs = [
  { flu: saFlu2, enso: saEnso2, smooth: false, xr: [-1.1, 1.1], yr: [-1.1, 1.1], xt: fullTicks, yt: fullTicks },
  { flu: saFlu3, enso: saEnso3, smooth: 0.3,   xr: [-1.1, 1.1], yr: [-1.1, 1.1], xt: fullTicks, yt: fullTicks },
  { flu: saFlu4, enso: saEnso4, smooth: 0.5,   xr: [-1.1, 1.1], yr: [-1.1, 1.1], xt: fullTicks, yt: fullTicks },
  { flu: asFlu2, enso: asEnso2, smooth: false, xr: [-1.1, 1.1], yr: [-1.1, 1.1], xt: fullTicks, yt: fullTicks },
  { flu: asFlu3, enso: asEnso3, smooth: 0.3,   xr: [-1.1, 1.1], yr: [-1.1, 1.1], xt: fullTicks, yt: fullTicks },
  { flu: asFlu4, enso: asEnso4, smooth: 0.5,   xr: [-1.1, 1.05], yr: [-1.1, 1.1], xt: fullTicks, yt: fullTicks },
  { flu: ocFlu2, enso: ocEnso2, smooth: false, xr: [-1.1, 1.1], yr: [-1.1, 1.1], xt: fullTicks, yt: fullTicks },
  { flu: ocFlu3, enso: ocEnso3, smooth: 0.3,   xr: [-1.1, 1.1], yr: [-1.1, 1.1], xt: fullTicks, yt: fullTicks },
  { flu: ocFlu4, enso: ocEnso4, smooth: 0.5,   xr: [-1.095, 0.975], yr: [-1.095, 0.965], xt: shortTicks, yt: shortTicks }
];

const fmtTick = v => (Math.round(v * 10) / 10).toFixed(1).replace('-', '\u2212');

function makeAxis(idx, range, ticks, isX) {
  return {
    type: 'value', gridIndex: idx, min: range[0], max: range[1],
    position: isX ? 'bottom' : 'left',
    axisLine: { show: true, onZero: false, lineStyle: { color: '#333', width: 1.2 } },
    axisTick: { show: true, inside: false, length: 3.5, customValues: ticks, lineStyle: { color: '#333', width: 1 } },
    axisLabel: { show: true, customValues: ticks, formatter: fmtTick, color: '#4d4d4d', fontSize: 10, fontFamily: FONT, margin: 5 },
    splitLine: { show: false },
    name: isX ? xAxisName : yAxisName,
    nameLocation: 'middle', nameGap: isX ? 14 : 25, nameRotate: isX ? 0 : 90,
    nameTextStyle: { color: '#111', fontSize: 11, fontFamily: FONT }
  };
}

const grids = [], xAxes = [], yAxes = [], series = [], elements = [];

panelSpecs.forEach((p, i) => {
  const c = i % 3, r = Math.floor(i / 3);
  const left = COL_X[c], top = ROW_Y[r];
  grids.push({ left: left, top: top, width: PLOT_W, height: PLOT_H, containLabel: false });
  xAxes.push(makeAxis(i, p.xr, p.xt, true));
  yAxes.push(makeAxis(i, p.yr, p.yt, false));
  series.push({
    type: 'line', name: groupNames[0], xAxisIndex: i, yAxisIndex: i, data: p.flu,
    smooth: p.smooth, symbol: 'none', showSymbol: false, silent: true, z: 2,
    lineStyle: { color: FLU_COLOR, width: 1.35 }
  });
  series.push({
    type: 'line', name: groupNames[1], xAxisIndex: i, yAxisIndex: i, data: p.enso,
    smooth: p.smooth, symbol: 'none', showSymbol: false, silent: true, z: 3,
    lineStyle: { color: ENSO_COLOR, width: 1.35, type: DOT_DASH }
  });

  // panel letter and title
  elements.push({ type: 'text', x: LETTER_X[c], y: LETTER_Y[r], silent: true,
    style: { text: panelLetters[i], font: 'bold 19px ' + FONT, fill: '#000', textAlign: 'left', textVerticalAlign: 'middle' } });
  elements.push({ type: 'text', x: left + PLOT_W / 2, y: TITLE_Y[r], silent: true,
    style: { text: panelTitles[i], font: '12px ' + FONT, fill: '#1a1a1a', textAlign: 'center', textVerticalAlign: 'middle' } });

  // legend box inside the plot
  const lx = left + 297, ly = top + 301;
  elements.push({ type: 'text', x: lx, y: ly, silent: true,
    style: { text: 'Group', font: '11px ' + FONT, fill: '#1a1a1a', textAlign: 'left', textVerticalAlign: 'middle' } });
  elements.push({ type: 'line', silent: true, shape: { x1: lx + 1.5, y1: ly + 17, x2: lx + 15, y2: ly + 17 },
    style: { stroke: '#1a1a1a', lineWidth: 1.2 } });
  elements.push({ type: 'text', x: lx + 19, y: ly + 17, silent: true,
    style: { text: groupNames[0], font: '9px ' + FONT, fill: '#1a1a1a', textAlign: 'left', textVerticalAlign: 'middle' } });
  elements.push({ type: 'line', silent: true, shape: { x1: lx + 1.5, y1: ly + 34, x2: lx + 15, y2: ly + 34 },
    style: { stroke: '#1a1a1a', lineWidth: 1.2, lineDash: DOT_DASH } });
  elements.push({ type: 'text', x: lx + 19, y: ly + 34, silent: true,
    style: { text: groupNames[1], font: '9px ' + FONT, fill: '#1a1a1a', textAlign: 'left', textVerticalAlign: 'middle' } });
});

// figure frame and caption
elements.push({ type: 'rect', silent: true, z: -1,
  shape: { x: 7.5, y: 7.5, width: 1345, height: 1400 },
  style: { fill: 'none', stroke: '#a3a3a3', lineWidth: 1.5 } });
elements.push({ type: 'text', x: 22, y: 1349, silent: true,
  style: {
    text: '{b|FIGURE 8 | Phase space portraits of oscillatory components. (A\u2013C)}{n| South America. }{b|(D\u2013F)}{n| Asia. }{b|(G\u2013I)}{n| Oceania.}',
    textAlign: 'left', textVerticalAlign: 'middle',
    rich: {
      b: { fontSize: 18.3, fontWeight: 'bold', fontFamily: FONT, fill: '#231f20' },
      n: { fontSize: 18.3, fontWeight: 'normal', fontFamily: FONT, fill: '#231f20' }
    }
  } });

const chart = echarts.init(document.getElementById('chart'), null, { renderer: 'canvas' });
chart.setOption({
  backgroundColor: '#ffffff',
  animation: false,
  grid: grids,
  xAxis: xAxes,
  yAxis: yAxes,
  series: series,
  graphic: { elements: elements }
});
</script>
</body>
</html>
